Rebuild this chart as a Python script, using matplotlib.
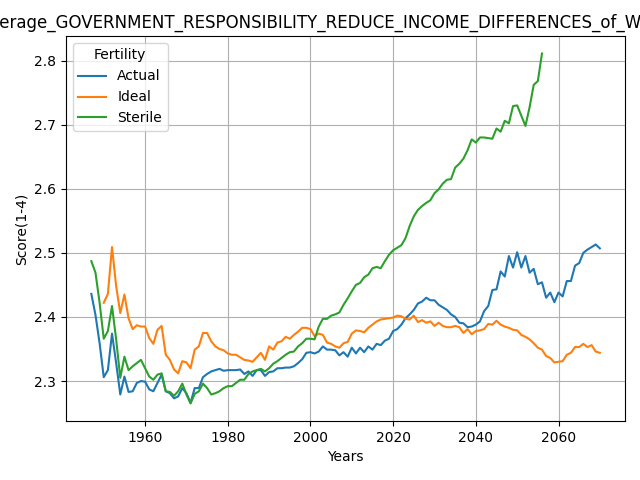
import matplotlib
matplotlib.use("Agg")
import matplotlib.pyplot as plt

title = "Average_GOVERNMENT_RESPONSIBILITY_REDUCE_INCOME_DIFFERENCES_of_Women"

actual = [2.436, 2.403, 2.359, 2.306, 2.317, 2.374, 2.328, 2.279, 2.307, 2.283,
          2.284, 2.297, 2.300, 2.299, 2.287, 2.284, 2.297, 2.310, 2.284, 2.281,
          2.273, 2.276, 2.289, 2.281, 2.266, 2.289, 2.289, 2.306, 2.311, 2.315,
          2.317, 2.319, 2.316, 2.317, 2.317, 2.317, 2.318, 2.311, 2.315, 2.308,
          2.317, 2.317, 2.308, 2.314, 2.315, 2.320, 2.320, 2.321, 2.321, 2.323,
          2.328, 2.334, 2.344, 2.345, 2.343, 2.346, 2.354, 2.349, 2.349, 2.348,
          2.340, 2.345, 2.338, 2.352, 2.343, 2.352, 2.345, 2.354, 2.349, 2.358,
          2.356, 2.363, 2.366, 2.378, 2.381, 2.388, 2.398, 2.404, 2.411, 2.421,
          2.424, 2.430, 2.426, 2.426, 2.419, 2.415, 2.411, 2.404, 2.400, 2.391,
          2.390, 2.384, 2.385, 2.388, 2.393, 2.409, 2.417, 2.442, 2.443, 2.471,
          2.463, 2.495, 2.477, 2.501, 2.477, 2.495, 2.469, 2.475, 2.451, 2.454,
          2.430, 2.438, 2.423, 2.438, 2.432, 2.456, 2.456, 2.480, 2.484, 2.500,
          2.505, 2.509, 2.513, 2.507]
years_actual = list(range(1947, 1947 + len(actual)))

ideal = [2.422, 2.436, 2.509, 2.448, 2.406, 2.435, 2.398, 2.381, 2.387, 2.385,
         2.385, 2.367, 2.358, 2.380, 2.386, 2.341, 2.333, 2.318, 2.312, 2.331,
         2.329, 2.320, 2.349, 2.354, 2.375, 2.375, 2.362, 2.354, 2.350, 2.348,
         2.343, 2.341, 2.341, 2.337, 2.333, 2.332, 2.330, 2.337, 2.344, 2.333,
         2.354, 2.349, 2.360, 2.362, 2.369, 2.366, 2.372, 2.377, 2.383, 2.383,
         2.381, 2.370, 2.374, 2.372, 2.360, 2.358, 2.354, 2.352, 2.359, 2.361,
         2.374, 2.379, 2.378, 2.376, 2.383, 2.388, 2.393, 2.396, 2.397, 2.398,
         2.399, 2.402, 2.401, 2.397, 2.396, 2.402, 2.392, 2.395, 2.391, 2.393,
         2.386, 2.391, 2.386, 2.384, 2.384, 2.386, 2.384, 2.375, 2.381, 2.373,
         2.378, 2.379, 2.381, 2.389, 2.388, 2.394, 2.388, 2.385, 2.383, 2.380,
         2.379, 2.372, 2.369, 2.365, 2.359, 2.352, 2.349, 2.339, 2.336, 2.329,
         2.330, 2.331, 2.341, 2.344, 2.353, 2.353, 2.358, 2.353, 2.356, 2.346,
         2.344]
years_ideal = list(range(1950, 1950 + len(ideal)))

sterile = [2.487, 2.469, 2.422, 2.366, 2.378, 2.417, 2.365, 2.305, 2.338, 2.317,
           2.323, 2.328, 2.333, 2.320, 2.307, 2.302, 2.310, 2.312, 2.284, 2.283,
           2.277, 2.284, 2.296, 2.279, 2.265, 2.280, 2.284, 2.296, 2.289, 2.279,
           2.281, 2.284, 2.289, 2.292, 2.292, 2.297, 2.302, 2.302, 2.311, 2.315,
           2.317, 2.319, 2.315, 2.320, 2.327, 2.331, 2.336, 2.341, 2.345, 2.346,
           2.354, 2.359, 2.366, 2.366, 2.365, 2.385, 2.397, 2.397, 2.402, 2.404,
           2.407, 2.419, 2.429, 2.440, 2.450, 2.453, 2.462, 2.466, 2.476, 2.478,
           2.476, 2.487, 2.497, 2.504, 2.508, 2.512, 2.523, 2.542, 2.557, 2.567,
           2.573, 2.578, 2.582, 2.593, 2.599, 2.608, 2.614, 2.615, 2.633, 2.639,
           2.647, 2.660, 2.677, 2.672, 2.680, 2.680, 2.679, 2.678, 2.694, 2.689,
           2.706, 2.702, 2.729, 2.730, 2.714, 2.698, 2.727, 2.762, 2.768, 2.811]
years_sterile = list(range(1947, 1947 + len(sterile)))

fig, ax = plt.subplots(figsize=(6.4, 4.8), dpi=100)
ax.plot(years_actual, actual, label="Actual")
ax.plot(years_ideal, ideal, label="Ideal")
ax.plot(years_sterile, sterile, label="Sterile")
ax.set_title(title, x=0.479)
ax.set_xlabel("Years")
ax.set_ylabel("Score(1-4)")
ax.grid(True)
ax.legend(title="Fertility", loc="upper left")
fig.subplots_adjust(left=0.103, right=0.977, top=0.925, bottom=0.123)
fig.savefig("out.png")
